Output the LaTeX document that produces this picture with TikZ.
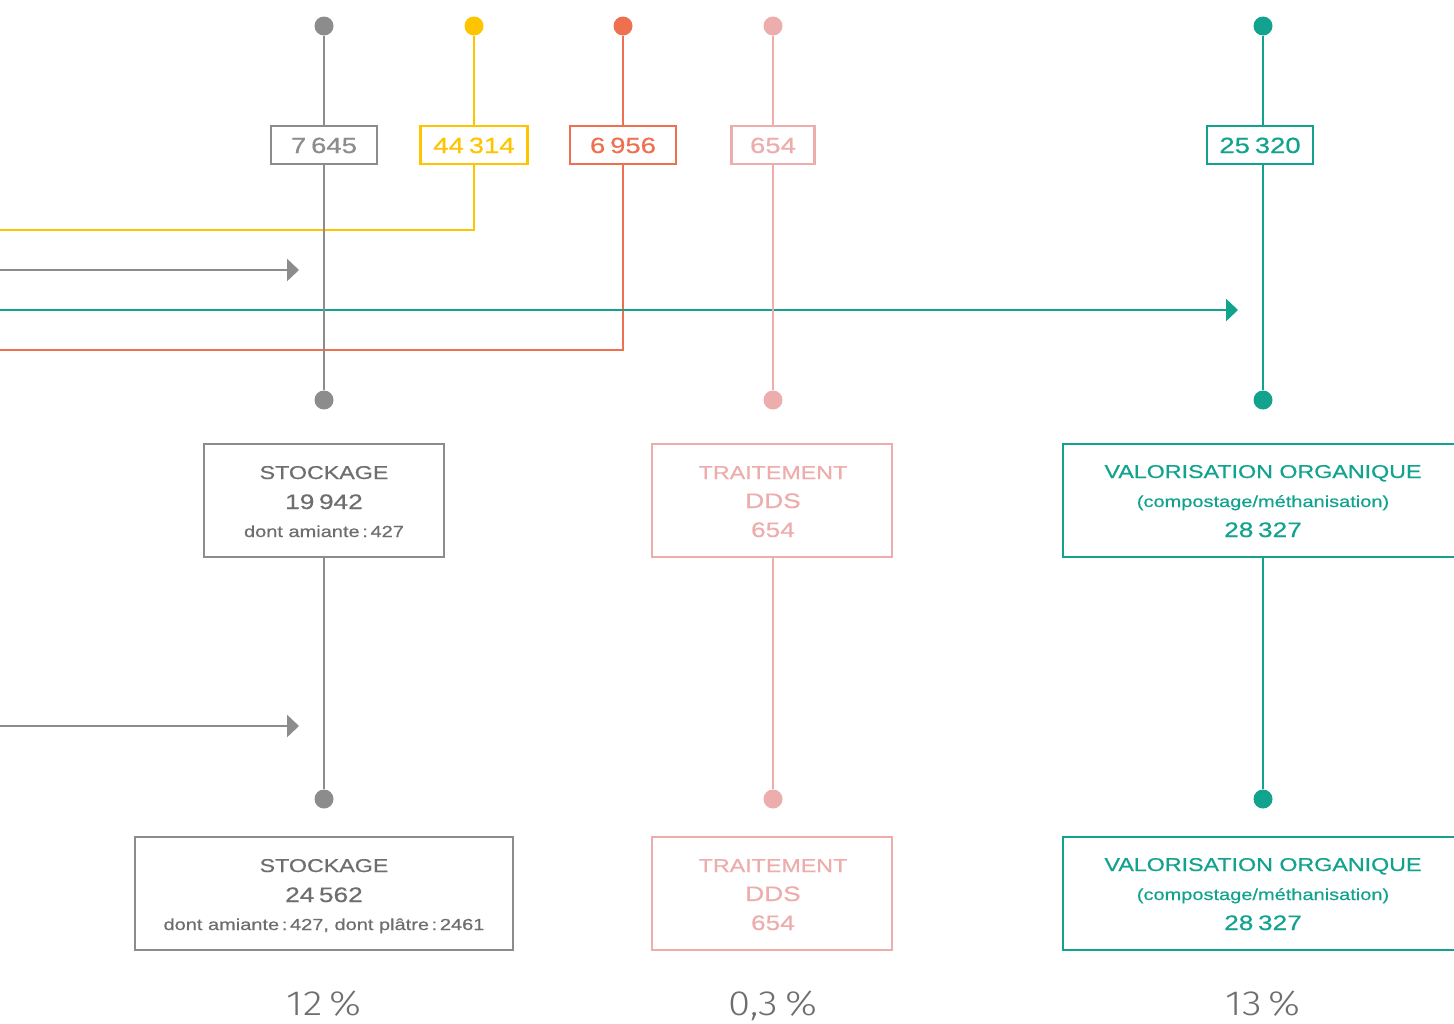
\documentclass[tikz,border=0pt]{standalone}
\usepackage{fontspec}
\setmainfont[FakeStretch=1.25,FakeBold=0.5]{Liberation Sans}
\newfontfamily\pctfont[FakeStretch=1.15]{Fira Sans Light}
\usetikzlibrary{arrows.meta}
\definecolor{cgrey}{HTML}{8C8C8C}
\definecolor{cgreytxt}{HTML}{6E6E6E}
\definecolor{cyellow}{HTML}{FFC400}
\definecolor{cred}{HTML}{EE7050}
\definecolor{cpink}{HTML}{EDADAC}
\definecolor{cteal}{HTML}{12A38E}
\newcommand{\dsp}{\hspace{0.22em}}
\begin{document}
\begin{tikzpicture}[x=0.5pt,y=-0.5pt,
  ln/.style={line width=1.4pt},
  arr/.style={line width=1.4pt,-{Triangle[length=6pt,width=11pt]}},
  dot/.style={circle,fill=#1,minimum size=9.5pt,inner sep=0pt},
  valbox/.style={draw=#1,line width=1.4pt,fill=white,minimum height=19pt,inner sep=0pt},
  bigbox/.style={draw=#1,line width=1.4pt,fill=white,minimum height=56.5pt,inner sep=0pt},
  valtxt/.style={anchor=base,text=#1,font=\fontsize{11}{13}\selectfont,inner sep=0pt},
  ttl/.style={anchor=base,text=#1,font=\fontsize{9.3}{11}\selectfont,inner sep=0pt},
  num/.style={anchor=base,text=#1,font=\fontsize{10.5}{12}\selectfont,inner sep=0pt},
  sml/.style={anchor=base,text=#1,font=\fontsize{8}{10}\selectfont,inner sep=0pt},
  pct/.style={anchor=base,text=cgreytxt,font=\pctfont\fontsize{17.5}{20}\selectfont,inner sep=0pt}
]
\fill[white] (0,0) rectangle (1454,1023);
\useasboundingbox (0,0) rectangle (1454,1023);

% top dots
\node[dot=cgrey]   (gt) at (324,26) {};
\node[dot=cyellow] (yt) at (474,26) {};
\node[dot=cred]    (rt) at (623,26) {};
\node[dot=cpink]   (pt) at (773,26) {};
\node[dot=cteal]   (tt) at (1263,26) {};

% small value boxes
\node[valbox=cgrey,minimum width=53pt]   (gs) at (324,145) {};
\node[valbox=cyellow,minimum width=53.5pt] (ys) at (474,145) {};
\node[valbox=cred,minimum width=53pt]    (rs) at (623,145) {};
\node[valbox=cpink,minimum width=41.5pt] (ps) at (773,145) {};
\node[valbox=cteal,minimum width=53pt]   (ts) at (1260,145) {};

% middle dots
\node[dot=cgrey] (gm) at (324,400) {};
\node[dot=cpink] (pm) at (773,400) {};
\node[dot=cteal] (tm) at (1263,400) {};

% lower dots
\node[dot=cgrey] (gl) at (324,799) {};
\node[dot=cpink] (pl) at (773,799) {};
\node[dot=cteal] (tl) at (1263,799) {};

% free ends
\coordinate (yend) at (-5,230);
\coordinate (rend) at (-5,350);
\coordinate (ga0) at (-5,270);
\coordinate (ga1) at (299,270);
\coordinate (ta0) at (-5,310);
\coordinate (ta1) at (1238,310);
\coordinate (gb0) at (-5,726);
\coordinate (gb1) at (299,726);

% connectors (back to front)
\draw[ln,cyellow] (yt) -- (ys);
\draw[ln,cyellow] (ys.south) |- (yend);
\draw[ln,cred] (rt) -- (rs);
\draw[ln,cred] (rs.south) |- (rend);
\draw[arr,cteal] (ta0) -- (ta1);
\draw[arr,cgrey] (ga0) -- (ga1);
\draw[arr,cgrey] (gb0) -- (gb1);
\draw[ln,cgrey] (gt) -- (gs);
\draw[ln,cgrey] (gs) -- (gm);
\draw[ln,cpink] (pt) -- (ps);
\draw[ln,cpink] (ps) -- (pm);
\draw[ln,cteal] (tt) -- (ts.north -| tt);
\draw[ln,cteal] (ts.south -| tt) -- (tm);

% big boxes, middle row
\node[bigbox=cgrey,minimum width=120pt] (gM) at (324,500.5) {};
\node[bigbox=cpink,minimum width=120pt] (pM) at (772,500.5) {};
\node[bigbox=cteal,minimum width=200pt] (tM) at (1263,500.5) {};
% big boxes, lower row
\node[bigbox=cgrey,minimum width=189pt] (gL) at (324,893.5) {};
\node[bigbox=cpink,minimum width=120pt] (pL) at (772,893.5) {};
\node[bigbox=cteal,minimum width=200pt] (tL) at (1263,893.5) {};

\draw[ln,cgrey] (gM) -- (gl);
\draw[ln,cpink] (pM.south -| pl) -- (pl);
\draw[ln,cteal] (tM) -- (tl);

% small box texts
\node[valtxt=cgrey]   (gsv) at (324,153) {7\dsp645};
\node[valtxt=cyellow] (ysv) at (474,153) {44\dsp314};
\node[valtxt=cred]    (rsv) at (623,153) {6\dsp956};
\node[valtxt=cpink]   (psv) at (773,153) {654};
\node[valtxt=cteal]   (tsv) at (1260,153) {25\dsp320};

% middle row texts
\node[ttl=cgreytxt] (gM1) at (324,479) {STOCKAGE};
\node[num=cgreytxt] (gM2) at (324,509) {19\dsp942};
\node[sml=cgreytxt] (gM3) at (324,537) {dont amiante\,:\,427};

\node[ttl=cpink] (pM1) at (773,479) {TRAITEMENT};
\node[num=cpink] (pM2) at (773,508) {DDS};
\node[num=cpink] (pM3) at (773,537) {654};

\node[ttl=cteal] (tM1) at (1263,478) {VALORISATION ORGANIQUE};
\node[sml=cteal] (tM2) at (1263,507) {(compostage/méthanisation)};
\node[num=cteal] (tM3) at (1263,537) {28\dsp327};

% lower row texts
\node[ttl=cgreytxt] (gL1) at (324,872) {STOCKAGE};
\node[num=cgreytxt] (gL2) at (324,902) {24\dsp562};
\node[sml=cgreytxt] (gL3) at (324,930) {dont amiante\,:\,427, dont plâtre\,:\,2461};

\node[ttl=cpink] (pL1) at (773,872) {TRAITEMENT};
\node[num=cpink] (pL2) at (773,901) {DDS};
\node[num=cpink] (pL3) at (773,930) {654};

\node[ttl=cteal] (tL1) at (1263,871) {VALORISATION ORGANIQUE};
\node[sml=cteal] (tL2) at (1263,900) {(compostage/méthanisation)};
\node[num=cteal] (tL3) at (1263,930) {28\dsp327};

% percentages
\node[pct] (p1) at (324,1015) {12\hspace{0.2em}\%};
\node[pct] (p2) at (773,1015) {0,3\hspace{0.2em}\%};
\node[pct] (p3) at (1263,1015) {13\hspace{0.2em}\%};
\end{tikzpicture}
\end{document}
